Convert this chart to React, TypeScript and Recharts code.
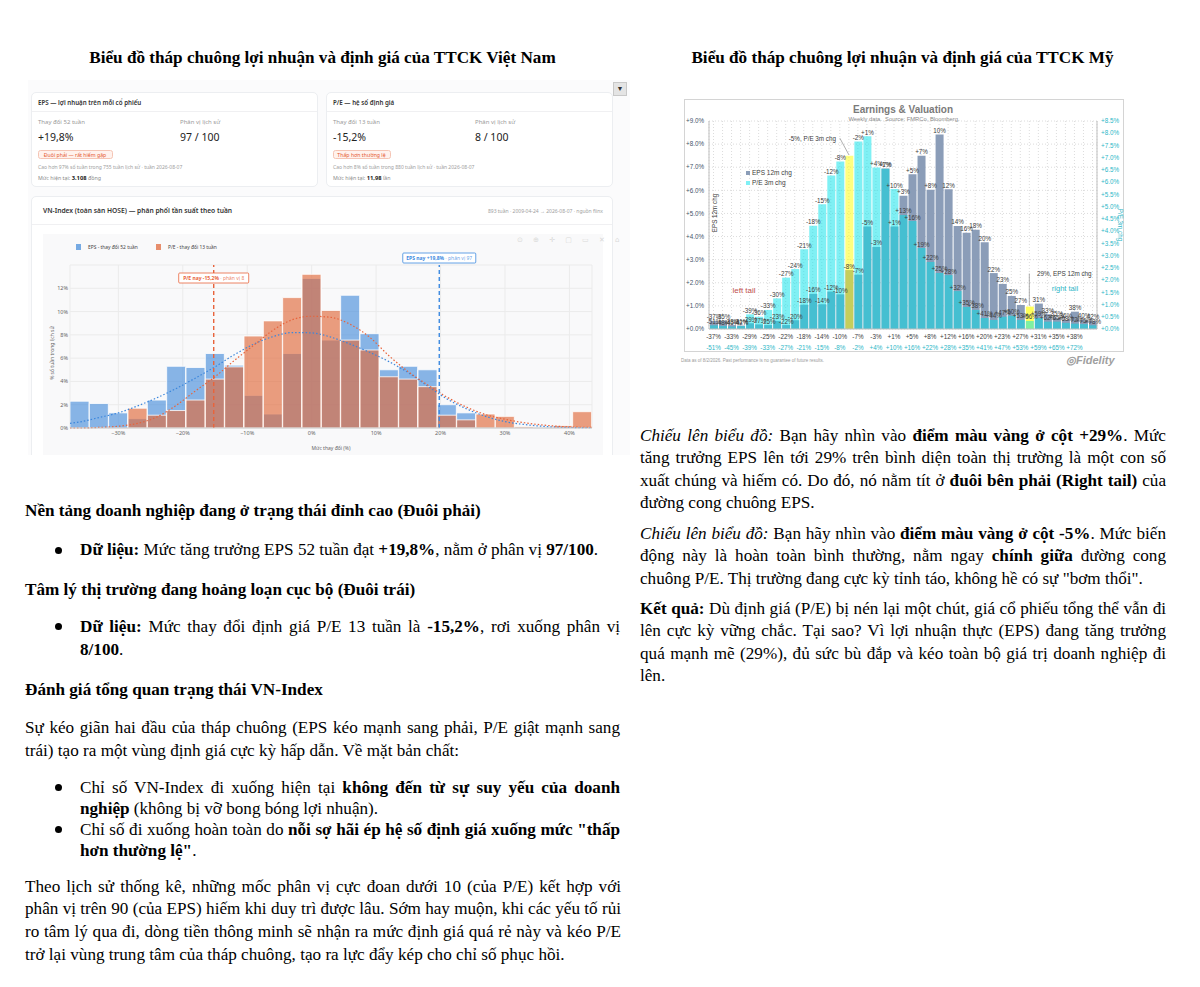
import React from "react";
import {
  ComposedChart,
  Bar,
  Line,
  XAxis,
  YAxis,
  CartesianGrid,
  ReferenceLine,
  LabelList,
  Cell,
} from "recharts";

// ---------- VN-Index weekly histogram (left) ----------
const vnBins = [-36, -33, -30, -27, -24, -21, -18, -15, -12, -9, -6, -3, 0, 3, 6, 9, 12, 15, 18, 21, 24, 27, 30, 33, 36, 39, 42];
const vnEps = [2.3, 2.1, 1.3, 0.8, 2.4, 5.3, 5.2, 6.4, 5.4, 2.8, 1.2, 6.4, 12.85, 7.55, 11.4, 8.1, 5.0, 5.3, 5.0, 2.0, 1.3, 0, 0, 0, 0, 0, 0];
const vnPe = [0, 0, 0, 1.7, 1.1, 1.5, 2.4, 4.2, 5.25, 7.9, 9.2, 11.2, 13.2, 10.1, 7.55, 6.7, 4.4, 4.2, 3.55, 1.1, 0.7, 1.2, 1.0, 0.1, 0, 0.2, 1.4];

const vnFitX = [-37.5, -36, -33, -30, -27, -24, -21, -18, -15, -12, -9, -6, -3, 0, 3, 6, 9, 12, 15, 18, 21, 24, 27, 30, 33, 36, 39, 42, 43.5];
const vnEpsFit = [0.4, 0.52, 0.9, 1.3, 1.9, 2.6, 3.4, 4.3, 5.25, 6.3, 7.2, 7.85, 8.2, 8.17, 7.8, 7.2, 6.5, 5.7, 4.75, 3.6, 2.5, 1.65, 1.0, 0.55, 0.3, 0.14, 0.06, 0.03, 0.02];
const vnPeFit = [0, 0, 0.05, 0.15, 0.4, 0.95, 1.95, 3.2, 4.4, 5.8, 7.1, 8.4, 9.3, 9.6, 9.5, 8.9, 7.8, 6.2, 4.83, 3.7, 2.65, 1.8, 1.15, 0.75, 0.45, 0.25, 0.12, 0.06, 0.05];

const vnXTicks = [-30, -20, -10, 0, 10, 20, 30, 40];
const vnYTicks = [0, 2, 4, 6, 8, 10, 12];
const EPS_NOW = 19.8;
const PE_NOW = -15.2;

// ---------- Fidelity "Earnings & Valuation" (right) ----------
const fidEpsBin = ["-37%", "-35%", "-33%", "-31%", "-29%", "-27%", "-25%", "-23%", "-22%", "-20%", "-18%", "-16%", "-14%", "-12%", "-10%", "-8%", "-7%", "-5%", "-3%", "-1%", "+1%", "+3%", "+5%", "+7%", "+8%", "10%", "12%", "14%", "16%", "18%", "20%", "22%", "23%", "25%", "27%", "29%", "31%", "33%", "35%", "36%", "38%", "40%", "42%"];
const fidPeBin = ["-51%", "-48%", "-45%", "-42%", "-39%", "-36%", "-33%", "-30%", "-27%", "-24%", "-21%", "-18%", "-15%", "-12%", "-8%", "-5%", "-2%", "+1%", "+4%", "+7%", "+10%", "+13%", "+16%", "+19%", "+22%", "+25%", "+28%", "+32%", "+35%", "+38%", "+41%", "+44%", "+47%", "+50%", "+53%", "+56%", "+59%", "+62%", "+65%", "+68%", "+72%", "+75%", "+78%"];
const fidEps = [0.35, 0.35, 0.17, 0.15, 0.25, 0.2, 0.17, 0.35, 0.17, 0.38, 1.05, 1.52, 1.07, 1.62, 1.5, 2.55, 2.35, 4.43, 3.55, 6.95, 4.43, 5.77, 6.7, 7.5, 6.02, 8.42, 6.05, 4.46, 4.16, 4.29, 3.75, 2.42, 1.95, 1.43, 1.04, 0.97, 1.1, 0.64, 0.49, 0.39, 0.75, 0.39, 0.35];
const fidPe = [0.15, 0.12, 0.1, 0.12, 0.6, 0.5, 0.78, 1.25, 2.1, 2.45, 3.26, 4.22, 5.1, 6.27, 6.84, 7.08, 7.66, 7.88, 6.6, 6.55, 5.72, 4.66, 4.41, 3.31, 2.74, 2.29, 2.2, 1.55, 0.9, 0.78, 0.45, 0.37, 0.5, 0.54, 0.37, 0.33, 0.45, 0.3, 0.3, 0.25, 0.22, 0.2, 0.15];
const fidEpsAxis = ["-37%", "", "-33%", "", "-29%", "", "-25%", "", "-22%", "", "-18%", "", "-14%", "", "-10%", "", "-7%", "", "-3%", "", "+1%", "", "+5%", "", "+8%", "", "+12%", "", "+16%", "", "+20%", "", "+23%", "", "+27%", "", "+31%", "", "+35%", "", "+38%", "", ""];
const fidPeAxis = ["-51%", "", "-45%", "", "-39%", "", "-33%", "", "-27%", "", "-21%", "", "-15%", "", "-8%", "", "-2%", "", "+4%", "", "+10%", "", "+16%", "", "+22%", "", "+28%", "", "+35%", "", "+41%", "", "+47%", "", "+53%", "", "+59%", "", "+65%", "", "+72%", "", ""];
const fidLeftTicks = [0, 0.5, 1, 1.5, 2, 2.5, 3, 3.5, 4, 4.5, 5, 5.5, 6, 6.5, 7, 7.5, 8, 8.5, 9];
const fidRightTicks = [0, 0.5, 1, 1.5, 2, 2.5, 3, 3.5, 4, 4.5, 5, 5.5, 6, 6.5, 7, 7.5, 8, 8.5];
const EPS_MARK = "29%";
const PE_MARK = "-5%";

const serif = "'Liberation Serif', 'Times New Roman', serif";
const sans = "'Noto Sans', 'Open Sans', sans-serif";
const arial = "'Liberation Sans', Arial, sans-serif";

const BLUE = "#4A8FDB";
const ORANGE = "#E06A3C";
const SLATE = "#8b9db8";
const CYAN = "#00e2ea";
const TEAL_TXT = "#2db7c7";
const BODY = 17.15;

const pctSigned = (v: number) => (v < 0 ? "\u2212" + Math.abs(v) : String(v)) + "%";
const plusPct = (v: number) => "+" + v.toFixed(1) + "%";

function NowTag(props: any) {
  const { viewBox, head, tail, color, dy, w } = props;
  if (!viewBox) return null;
  const cx = viewBox.x;
  const top = viewBox.y + dy;
  return (
    <g>
      <rect x={cx - w / 2} y={top} width={w} height={10} fill="#fff" stroke={color} strokeWidth={0.8} rx={1} />
      <text x={cx} y={top + 7} textAnchor="middle" fontSize={5} fontFamily={sans} fill={color}>
        <tspan fontWeight={700}>{head}</tspan>
        <tspan fillOpacity={0.8}>{tail}</tspan>
      </text>
    </g>
  );
}

function VnHistogram() {
  const rows = vnBins.map((x, i) => ({ x, eps: vnEps[i], pe: vnPe[i] }));
  const fit = vnFitX.map((x, i) => ({ x, epsFit: vnEpsFit[i], peFit: vnPeFit[i] }));
  const tick = { fontSize: 5.5, fill: "#666", fontFamily: sans };
  return (
    <ComposedChart width={560} height={222} data={rows} margin={{ top: 32, right: 11, bottom: 0, left: 0 }}>
      <CartesianGrid xAxisId="bin" stroke="#ebebeb" />
      <XAxis
        xAxisId="bin"
        type="number"
        dataKey="x"
        domain={[-37.5, 43.5]}
        allowDataOverflow
        ticks={vnXTicks}
        tickFormatter={pctSigned}
        tick={tick}
        tickLine={false}
        tickSize={0}
        tickMargin={3}
        height={27}
        axisLine={{ stroke: "#c4c4c4" }}
      />
      <XAxis xAxisId="bin2" type="number" dataKey="x" domain={[-37.5, 43.5]} allowDataOverflow hide />
      <XAxis xAxisId="fit" type="number" dataKey="x" domain={[-37.5, 43.5]} allowDataOverflow hide />
      <YAxis
        domain={[0, 14]}
        ticks={vnYTicks}
        tickFormatter={(v: number) => v + "%"}
        tick={tick}
        tickLine={false}
        tickSize={0}
        tickMargin={2}
        axisLine={false}
        width={27}
      />
      <Bar xAxisId="bin" dataKey="eps" barSize={19} fill={BLUE} fillOpacity={0.65} stroke="#fff" strokeWidth={0.8} isAnimationActive={false} />
      <Bar xAxisId="bin2" dataKey="pe" barSize={19} fill={ORANGE} fillOpacity={0.65} stroke="#fff" strokeWidth={0.8} isAnimationActive={false} />
      <Line xAxisId="fit" data={fit} dataKey="epsFit" type="monotone" stroke="#3b86dc" strokeWidth={1.2} strokeDasharray="1.5 2" dot={false} isAnimationActive={false} />
      <Line xAxisId="fit" data={fit} dataKey="peFit" type="monotone" stroke="#e8643c" strokeWidth={1.2} strokeDasharray="1.5 2" dot={false} isAnimationActive={false} />
      <ReferenceLine
        xAxisId="bin"
        x={PE_NOW}
        stroke="#e8643c"
        strokeWidth={1.4}
        strokeDasharray="4 3"
        label={<NowTag head="P/E nay -15,2%" tail=" · phân vị 8" color="#e8643c" dy={8} w={70} />}
      />
      <ReferenceLine
        xAxisId="bin"
        x={EPS_NOW}
        stroke="#3d8ae0"
        strokeWidth={1.4}
        strokeDasharray="4 3"
        label={<NowTag head="EPS nay +19,8%" tail=" · phân vị 97" color="#3d8ae0" dy={-12} w={73} />}
      />
    </ComposedChart>
  );
}

function FidTick(props: any) {
  const { x, y } = props;
  const i = props.index ?? props.payload?.index ?? 0;
  return (
    <g fontFamily={arial} fontSize={6.3}>
      <text x={x} y={y + 10} textAnchor="middle" fill="#404040">{fidEpsAxis[i]}</text>
      <text x={x} y={y + 20.5} textAnchor="middle" fill={TEAL_TXT}>{fidPeAxis[i]}</text>
    </g>
  );
}

function barTag(p: any) {
  if (!p.value) return null;
  return (
    <text x={p.x + p.width / 2} y={p.y - 1.5} textAnchor="middle" fontSize={6.3} fontFamily={arial} fill="#404040">
      {p.value}
    </text>
  );
}

function FidelityChart() {
  const rows = fidEpsBin.map((b, i) => ({
    bin: b,
    eps: fidEps[i],
    pe: fidPe[i],
    epsTag: b === EPS_MARK ? "" : b,
    peTag: fidPeBin[i] === PE_MARK ? "" : fidPeBin[i],
  }));
  return (
    <ComposedChart width={440} height={253} data={rows} margin={{ top: 22, right: 2, bottom: 0, left: 0 }}>
      <CartesianGrid xAxisId="eps" yAxisId="l" stroke="#dcdcdc" strokeDasharray="1 2" />
      <XAxis
        xAxisId="eps"
        dataKey="bin"
        interval={0}
        tick={(p: any) => <FidTick {...p} />}
        tickLine={false}
        tickSize={0}
        tickMargin={0}
        height={23}
        axisLine={{ stroke: "#bfbfbf" }}
      />
      <XAxis xAxisId="pe" dataKey="bin" hide />
      <YAxis
        yAxisId="l"
        domain={[0, 9]}
        ticks={fidLeftTicks}
        tickFormatter={plusPct}
        tick={{ fontSize: 6.3, fill: "#44546a", fontFamily: arial }}
        tickLine={false}
        tickSize={0}
        tickMargin={5}
        width={25}
        axisLine={{ stroke: "#bfbfbf" }}
      />
      <YAxis
        yAxisId="r"
        orientation="right"
        domain={[0, 8.5]}
        ticks={fidRightTicks}
        tickFormatter={plusPct}
        tick={{ fontSize: 6.3, fill: TEAL_TXT, fontFamily: arial }}
        tickLine={false}
        tickSize={0}
        tickMargin={4}
        width={25}
        axisLine={{ stroke: "#bfbfbf" }}
      />
      <Bar xAxisId="eps" yAxisId="l" dataKey="eps" barSize={8} isAnimationActive={false}>
        {rows.map((r) => (
          <Cell key={r.bin} fill={r.bin === EPS_MARK ? "#ffff5a" : SLATE} />
        ))}
        <LabelList dataKey="epsTag" content={barTag} />
      </Bar>
      <Bar xAxisId="pe" yAxisId="r" dataKey="pe" barSize={8} fillOpacity={0.5} isAnimationActive={false}>
        {rows.map((r, i) => (
          <Cell key={r.bin} fill={fidPeBin[i] === PE_MARK ? "#ffff00" : CYAN} fillOpacity={0.5} />
        ))}
        <LabelList dataKey="peTag" content={barTag} />
      </Bar>
      <ReferenceLine
        xAxisId="pe"
        yAxisId="r"
        segment={[{ x: "-10%", y: 7.8 }, { x: "-8%", y: 7.12 }]}
        stroke="#8c8c8c"
        strokeWidth={0.7}
        ifOverflow="visible"
      />
      <ReferenceLine
        xAxisId="eps"
        yAxisId="l"
        segment={[{ x: "29%", y: 2.4 }, { x: "29%", y: 1.0 }]}
        stroke="#8c8c8c"
        strokeWidth={0.7}
        ifOverflow="visible"
      />
    </ComposedChart>
  );
}

const abs = (x: number, y: number, extra: React.CSSProperties = {}): React.CSSProperties => ({
  position: "absolute",
  left: x,
  top: y,
  ...extra,
});

function StatCard(props: {
  x: number;
  title: string;
  changeLabel: string;
  change: string;
  pct: string;
  badge: string;
  badgeW: number;
  note: string;
  current: string;
  unit: string;
}) {
  return (
    <div style={abs(props.x, 12, { width: 287, height: 95, background: "#fff", border: "1px solid #eceef1", borderRadius: 5, boxSizing: "border-box" })}>
      <div style={abs(6, 5, { fontSize: 6.2, fontWeight: 600, color: "#333", lineHeight: "10px", whiteSpace: "nowrap" })}>{props.title}</div>
      <div style={abs(0, 18, { width: 285, height: 1, background: "#f0f0f2" })} />
      <div style={abs(6, 25, { fontSize: 6, color: "#9a9a9a", lineHeight: "8px", whiteSpace: "nowrap" })}>{props.changeLabel}</div>
      <div style={abs(6, 38, { fontSize: 10.5, color: "#222", lineHeight: "13px", whiteSpace: "nowrap" })}>{props.change}</div>
      <div style={abs(148, 25, { fontSize: 6, color: "#9a9a9a", lineHeight: "8px", whiteSpace: "nowrap" })}>Phân vị lịch sử</div>
      <div style={abs(148, 38, { fontSize: 10.5, color: "#222", lineHeight: "13px", whiteSpace: "nowrap" })}>{props.pct}</div>
      <div
        style={abs(5.5, 57, {
          width: props.badgeW,
          height: 9,
          background: "#fff2ed",
          border: "0.8px solid #f5c5b5",
          borderRadius: 2.5,
          boxSizing: "border-box",
          fontSize: 5.2,
          color: "#e4572e",
          lineHeight: "8px",
          textAlign: "center",
          whiteSpace: "nowrap",
        })}
      >
        {props.badge}
      </div>
      <div style={abs(6, 71, { fontSize: 5, color: "#a0a0a0", lineHeight: "7px", whiteSpace: "nowrap" })}>{props.note}</div>
      <div style={abs(6, 82, { fontSize: 5.3, color: "#8a8a8a", lineHeight: "7px", whiteSpace: "nowrap" })}>
        Mức hiện tại: <b style={{ color: "#222", fontSize: 5.8 }}>{props.current}</b> {props.unit}
      </div>
    </div>
  );
}

function Dashboard() {
  return (
    <div style={abs(28, 80, { width: 602, height: 375, overflow: "hidden", background: "#fbfbfc", fontFamily: sans })}>
      <StatCard
        x={3}
        title="EPS — lợi nhuận trên mỗi cổ phiếu"
        changeLabel="Thay đổi 52 tuần"
        change="+19,8%"
        pct="97 / 100"
        badge="Đuôi phải — rất hiếm gặp"
        badgeW={75}
        note="Cao hơn 97% số tuần trong 755 tuần lịch sử · tuần 2026-08-07"
        current="3.108"
        unit="đồng"
      />
      <StatCard
        x={298}
        title="P/E — hệ số định giá"
        changeLabel="Thay đổi 13 tuần"
        change="-15,2%"
        pct="8 / 100"
        badge="Thấp hơn thường lệ"
        badgeW={58}
        note="Cao hơn 8% số tuần trong 880 tuần lịch sử · tuần 2026-08-07"
        current="11,98"
        unit="lần"
      />
      <div style={abs(585, 2, { width: 14, height: 14, background: "#e4e4e4", border: "1px solid #c8c8c8", boxSizing: "border-box", fontSize: 7, lineHeight: "12px", textAlign: "center", color: "#333" })}>▼</div>

      <div style={abs(3, 116, { width: 582, height: 300, background: "#fff", border: "1px solid #eceef1", borderRadius: 5, boxSizing: "border-box" })}>
        <div style={abs(11, 9, { fontSize: 6.7, fontWeight: 600, color: "#333", lineHeight: "9px", whiteSpace: "nowrap" })}>
          VN-Index (toàn sàn HOSE) — phân phối tần suất theo tuần
        </div>
        <div style={abs(0, 11, { width: 571, textAlign: "right", fontSize: 5, color: "#a0a0a0", lineHeight: "7px", whiteSpace: "nowrap" })}>
          893 tuần · 2009-04-24 → 2026-08-07 · nguồn fiinx
        </div>
        <div style={abs(0, 27, { width: 580, height: 1, background: "#f0f0f2" })} />
        <div style={abs(11, 37, { width: 560, height: 260, background: "#f9f9fa" })} />
      </div>

      <div style={abs(15, 153)}>
        <VnHistogram />
      </div>

      <div style={abs(48, 164, { width: 5, height: 6, background: BLUE, opacity: 0.75 })} />
      <div style={abs(60, 164, { fontSize: 4.9, color: "#444", lineHeight: "6px", whiteSpace: "nowrap" })}>EPS - thay đổi 52 tuần</div>
      <div style={abs(128, 164, { width: 5, height: 6, background: ORANGE, opacity: 0.75 })} />
      <div style={abs(140, 164, { fontSize: 4.9, color: "#444", lineHeight: "6px", whiteSpace: "nowrap" })}>P/E - thay đổi 13 tuần</div>
      <div style={abs(489, 156, { fontSize: 7, color: "#d9d9d9", letterSpacing: 4, whiteSpace: "nowrap", fontFamily: "'DejaVu Sans', sans-serif" })}>⊙ ⊕ ✛ ▢ ▭ ✕ ⌂</div>

      <div style={abs(24, 273, { transform: "translate(-50%, -50%) rotate(-90deg)", fontSize: 5, color: "#666", whiteSpace: "nowrap" })}>% số tuần trong lịch sử</div>
      <div style={abs(303, 368, { transform: "translate(-50%, -50%)", fontSize: 5, color: "#666", whiteSpace: "nowrap" })}>Mức thay đổi (%)</div>
    </div>
  );
}

function FidelityPanel() {
  return (
    <>
      <div style={abs(684, 99, { width: 440, height: 253, border: "1px solid #d4d4d4", boxSizing: "border-box", background: "#fff" })} />
      <div style={abs(684, 99)}>
        <FidelityChart />
      </div>
      <div style={abs(903, 109, { transform: "translate(-50%, -50%)", fontFamily: arial, fontSize: 10, fontWeight: 700, color: "#7a7a7a", whiteSpace: "nowrap" })}>Earnings &amp; Valuation</div>
      <div style={abs(904, 118.5, { transform: "translate(-50%, -50%)", fontFamily: arial, fontSize: 5.8, color: "#8a8a8a", whiteSpace: "pre" })}>Weekly data.  Source: FMRCo, Bloomberg.</div>

      <div style={abs(746, 171, { width: 4, height: 4, background: SLATE })} />
      <div style={abs(752, 169, { fontFamily: arial, fontSize: 6.5, color: "#404040", lineHeight: "8px", whiteSpace: "nowrap" })}>EPS 12m chg</div>
      <div style={abs(746, 181, { width: 4, height: 4, background: "#80f0f5" })} />
      <div style={abs(752, 179, { fontFamily: arial, fontSize: 6.5, color: "#404040", lineHeight: "8px", whiteSpace: "nowrap" })}>P/E 3m chg</div>

      <div style={abs(836, 138, { transform: "translate(-100%, -50%)", fontFamily: arial, fontSize: 6.3, color: "#404040", whiteSpace: "nowrap" })}>-5%, P/E 3m chg</div>
      <div style={abs(1037, 272.5, { transform: "translate(0, -50%)", fontFamily: arial, fontSize: 6.3, color: "#404040", whiteSpace: "nowrap" })}>29%, EPS 12m chg</div>
      <div style={abs(744, 290, { transform: "translate(-50%, -50%)", fontFamily: arial, fontSize: 8, color: "#c0504d", whiteSpace: "nowrap" })}>left tail</div>
      <div style={abs(1065, 288, { transform: "translate(-50%, -50%)", fontFamily: arial, fontSize: 7.5, color: TEAL_TXT, whiteSpace: "nowrap" })}>right tail</div>

      <div style={abs(714, 213, { transform: "translate(-50%, -50%) rotate(-90deg)", fontFamily: arial, fontSize: 6.3, color: "#404040", whiteSpace: "nowrap" })}>EPS 12m chg</div>
      <div style={abs(1120, 225, { transform: "translate(-50%, -50%) rotate(90deg)", fontFamily: arial, fontSize: 6.3, color: TEAL_TXT, whiteSpace: "nowrap" })}>P/E 3m chg</div>

      <div style={abs(681, 360, { transform: "translate(0, -50%)", fontFamily: arial, fontSize: 4.5, color: "#9a9a9a", whiteSpace: "nowrap" })}>
        Data as of 8/2/2026. Past performance is no guarantee of future results.
      </div>
      <div style={abs(1066, 360, { transform: "translate(0, -50%)", fontFamily: arial, fontSize: 11, fontWeight: 700, fontStyle: "italic", color: "#a0a0a0", whiteSpace: "nowrap" })}>
        ◎Fidelity
      </div>
    </>
  );
}

function Text(props: { x: number; y: number; w: number; lh: number; bold?: boolean; center?: boolean; children: React.ReactNode }) {
  return (
    <div
      style={abs(props.x, props.y, {
        width: props.w,
        fontSize: BODY,
        lineHeight: props.lh + "px",
        fontWeight: props.bold ? 700 : 400,
        textAlign: props.center ? "center" : "justify",
      })}
    >
      {props.children}
    </div>
  );
}

function Bullet(props: { y: number; lh: number; children: React.ReactNode }) {
  return (
    <>
      <div style={abs(54.5, props.y + props.lh / 2 - 3.5, { width: 7, height: 7, borderRadius: "50%", background: "#000" })} />
      <Text x={80} y={props.y} w={540} lh={props.lh}>
        {props.children}
      </Text>
    </>
  );
}

export default function App() {
  return (
    <div style={abs(0, 0, { width: 1200, height: 987, background: "#fff", overflow: "hidden", fontFamily: serif, color: "#000" })}>
      <Text x={25} y={48} w={595} lh={20} bold center>
        Biểu đồ tháp chuông lợi nhuận và định giá của TTCK Việt Nam
      </Text>
      <Text x={640} y={48} w={525} lh={20} bold center>
        Biểu đồ tháp chuông lợi nhuận và định giá của TTCK Mỹ
      </Text>

      <Dashboard />
      <FidelityPanel />

      <Text x={25} y={500} w={595} lh={22} bold>
        Nền tảng doanh nghiệp đang ở trạng thái đỉnh cao (Đuôi phải)
      </Text>
      <Bullet y={539} lh={22}>
        <b>Dữ liệu:</b> Mức tăng trưởng EPS 52 tuần đạt <b>+19,8%</b>, nằm ở phân vị <b>97/100</b>.
      </Bullet>
      <Text x={25} y={579} w={595} lh={22} bold>
        Tâm lý thị trường đang hoảng loạn cục bộ (Đuôi trái)
      </Text>
      <Bullet y={614.5} lh={23}>
        <b>Dữ liệu:</b> Mức thay đổi định giá P/E 13 tuần là <b>-15,2%</b>, rơi xuống phân vị <b>8/100</b>.
      </Bullet>
      <Text x={25} y={679} w={595} lh={22} bold>
        Đánh giá tổng quan trạng thái VN-Index
      </Text>
      <Text x={25} y={715.5} w={595} lh={23}>
        Sự kéo giãn hai đầu của tháp chuông (EPS kéo mạnh sang phải, P/E giật mạnh sang trái) tạo ra một vùng định giá cực kỳ hấp dẫn. Về mặt bản chất:
      </Text>
      <Bullet y={776.5} lh={21}>
        Chỉ số VN-Index đi xuống hiện tại <b>không đến từ sự suy yếu của doanh nghiệp</b> (không bị vỡ bong bóng lợi nhuận).
      </Bullet>
      <Bullet y={818.5} lh={21}>
        Chỉ số đi xuống hoàn toàn do <b>nỗi sợ hãi ép hệ số định giá xuống mức "thấp hơn thường lệ"</b>.
      </Bullet>
      <Text x={25} y={875.6} w={596} lh={22.7}>
        Theo lịch sử thống kê, những mốc phân vị cực đoan dưới 10 (của P/E) kết hợp với phân vị trên 90 (của EPS) hiếm khi duy trì được lâu. Sớm hay muộn, khi các yếu tố rủi ro tâm lý qua đi, dòng tiền thông minh sẽ nhận ra mức định giá quá rẻ này và kéo P/E trở lại vùng trung tâm của tháp chuông, tạo ra lực đẩy kép cho chỉ số phục hồi.
      </Text>

      <Text x={640} y={424.7} w={526} lh={22.6}>
        <i>Chiếu lên biểu đồ:</i> Bạn hãy nhìn vào <b>điểm màu vàng ở cột +29%</b>. Mức tăng trưởng EPS lên tới 29% trên bình diện toàn thị trường là một con số xuất chúng và hiếm có. Do đó, nó nằm tít ở <b>đuôi bên phải (Right tail)</b> của đường cong chuông EPS.
      </Text>
      <Text x={640} y={522.7} w={526} lh={22.6}>
        <i>Chiếu lên biểu đồ:</i> Bạn hãy nhìn vào <b>điểm màu vàng ở cột -5%</b>. Mức biến động này là hoàn toàn bình thường, nằm ngay <b>chính giữa</b> đường cong chuông P/E. Thị trường đang cực kỳ tỉnh táo, không hề có sự "bơm thổi".
      </Text>
      <Text x={640} y={597.7} w={526} lh={22.6}>
        <b>Kết quả:</b> Dù định giá (P/E) bị nén lại một chút, giá cổ phiếu tổng thể vẫn đi lên cực kỳ vững chắc. Tại sao? Vì lợi nhuận thực (EPS) đang tăng trưởng quá mạnh mẽ (29%), đủ sức bù đắp và kéo toàn bộ giá trị doanh nghiệp đi lên.
      </Text>
    </div>
  );
}
